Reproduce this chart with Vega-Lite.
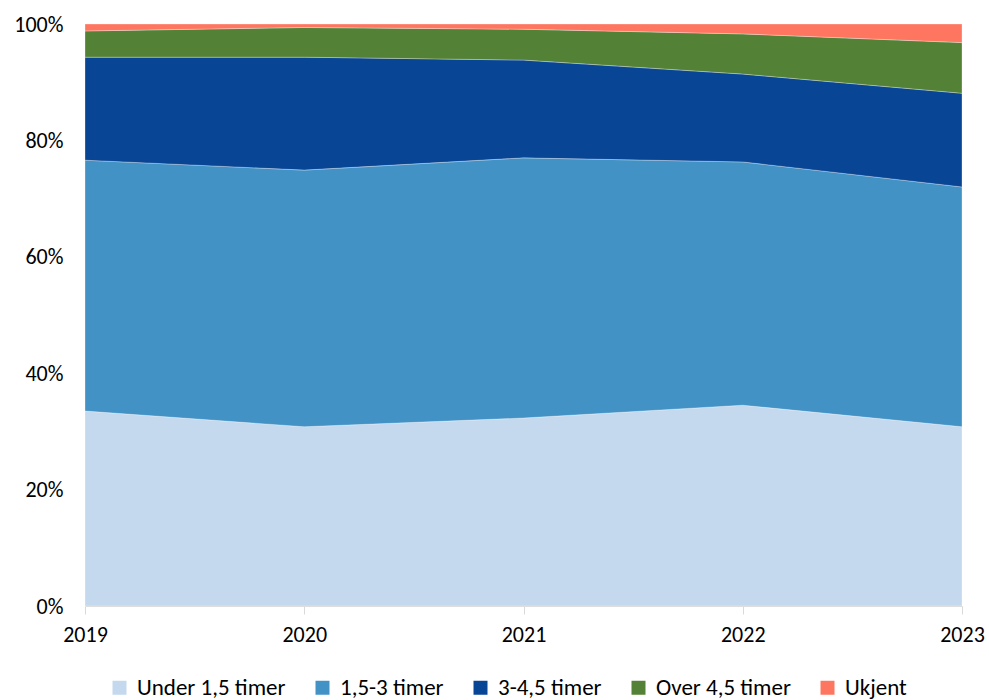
{
  "$schema": "https://vega.github.io/schema/vega-lite/v6.json",
  "width": 877,
  "height": 582,
  "autosize": {"type": "none"},
  "padding": {"left": 85, "top": 24, "right": 27, "bottom": 94},
  "background": "white",
  "config": {
    "view": {"stroke": null},
    "font": "Carlito, Lato, sans-serif"
  },
  "data": {
    "values": [
      {"year": "2019", "cat": "Under 1,5 timer", "k": 1, "v": 33.5},
      {"year": "2020", "cat": "Under 1,5 timer", "k": 1, "v": 30.8},
      {"year": "2021", "cat": "Under 1,5 timer", "k": 1, "v": 32.3},
      {"year": "2022", "cat": "Under 1,5 timer", "k": 1, "v": 34.5},
      {"year": "2023", "cat": "Under 1,5 timer", "k": 1, "v": 30.8},
      {"year": "2019", "cat": "1,5-3 timer", "k": 2, "v": 43.1},
      {"year": "2020", "cat": "1,5-3 timer", "k": 2, "v": 44.1},
      {"year": "2021", "cat": "1,5-3 timer", "k": 2, "v": 44.7},
      {"year": "2022", "cat": "1,5-3 timer", "k": 2, "v": 41.8},
      {"year": "2023", "cat": "1,5-3 timer", "k": 2, "v": 41.2},
      {"year": "2019", "cat": "3-4,5 timer", "k": 3, "v": 17.7},
      {"year": "2020", "cat": "3-4,5 timer", "k": 3, "v": 19.4},
      {"year": "2021", "cat": "3-4,5 timer", "k": 3, "v": 16.8},
      {"year": "2022", "cat": "3-4,5 timer", "k": 3, "v": 15.1},
      {"year": "2023", "cat": "3-4,5 timer", "k": 3, "v": 16.1},
      {"year": "2019", "cat": "Over 4,5 timer", "k": 4, "v": 4.5},
      {"year": "2020", "cat": "Over 4,5 timer", "k": 4, "v": 5.1},
      {"year": "2021", "cat": "Over 4,5 timer", "k": 4, "v": 5.3},
      {"year": "2022", "cat": "Over 4,5 timer", "k": 4, "v": 6.9},
      {"year": "2023", "cat": "Over 4,5 timer", "k": 4, "v": 8.7},
      {"year": "2019", "cat": "Ukjent", "k": 5, "v": 1.2},
      {"year": "2020", "cat": "Ukjent", "k": 5, "v": 0.6},
      {"year": "2021", "cat": "Ukjent", "k": 5, "v": 0.9},
      {"year": "2022", "cat": "Ukjent", "k": 5, "v": 1.7},
      {"year": "2023", "cat": "Ukjent", "k": 5, "v": 3.2}
    ]
  },
  "mark": {"type": "area", "stroke": "white", "strokeWidth": 0.5, "strokeOpacity": 0.6},
  "encoding": {
    "x": {
      "field": "year",
      "type": "ordinal",
      "scale": {"type": "point", "padding": 0},
      "axis": {
        "title": null,
        "labelAngle": 0,
        "labelFontSize": 22,
        "labelColor": "#000000",
        "labelPadding": 10,
        "tickColor": "#d9d9d9",
        "tickSize": 8,
        "domainColor": "#d9d9d9",
        "domainWidth": 1,
        "grid": false
      }
    },
    "y": {
      "field": "v",
      "type": "quantitative",
      "stack": "zero",
      "scale": {"domain": [0, 100], "nice": false},
      "axis": {
        "title": null,
        "values": [0, 20, 40, 60, 80, 100],
        "labelExpr": "datum.value + '%'",
        "labelFontSize": 22,
        "labelColor": "#000000",
        "labelPadding": 22,
        "ticks": false,
        "domain": false,
        "grid": false
      }
    },
    "color": {
      "field": "cat",
      "type": "nominal",
      "scale": {
        "domain": ["Under 1,5 timer", "1,5-3 timer", "3-4,5 timer", "Over 4,5 timer", "Ukjent"],
        "range": ["#C5D9EE", "#4292C6", "#084594", "#538135", "#FF7660"]
      },
      "legend": {
        "title": null,
        "orient": "none",
        "direction": "horizontal",
        "legendX": 23,
        "legendY": 652,
        "padding": 0,
        "symbolType": "square",
        "symbolSize": 196,
        "symbolStrokeWidth": 0,
        "labelFontSize": 23,
        "labelColor": "#000000",
        "labelOffset": 6,
        "columnPadding": 25
      }
    },
    "order": {"field": "k", "type": "quantitative", "sort": "ascending"}
  }
}
